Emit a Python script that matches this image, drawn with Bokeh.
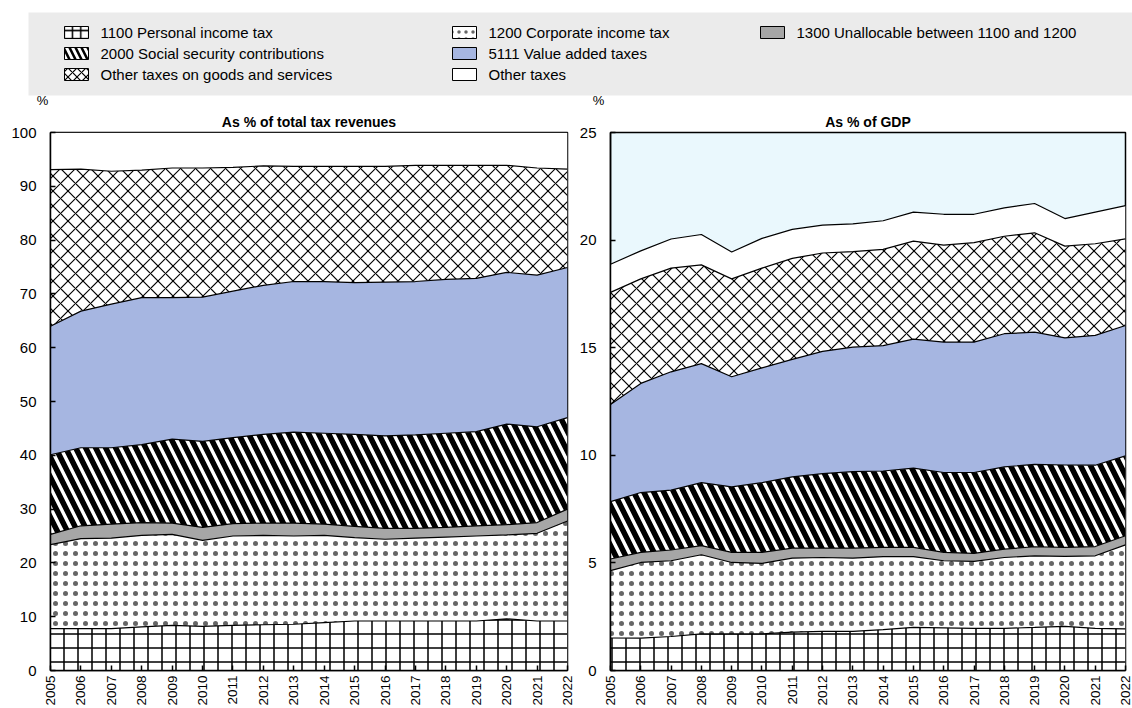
import numpy as np
from bokeh.plotting import figure
from bokeh.layouts import column, row
from bokeh.models import Range1d, FixedTicker, BoxAnnotation
from bokeh.core.properties import value
from bokeh.embed import file_html
from bokeh.resources import INLINE

FONT = "Liberation Sans"

years = list(range(2005, 2023))

series_names = [
    "1100 Personal income tax",
    "1200 Corporate income tax",
    "1300 Unallocable between 1100 and 1200",
    "2000 Social security contributions",
    "5111 Value added taxes",
    "Other taxes on goods and services",
    "Other taxes",
]

# As % of total tax revenues
share_pit = [7.8, 7.8, 7.8, 8.1, 8.4, 8.2, 8.4, 8.5, 8.6, 8.9, 9.2, 9.2, 9.2, 9.2, 9.2, 9.6, 9.2, 9.2]
share_cit = [15.6, 16.7, 16.8, 17.0, 16.9, 16.0, 16.6, 16.6, 16.4, 16.2, 15.5, 15.2, 15.4, 15.6, 15.8, 15.6, 16.3, 18.6]
share_unalloc = [1.9, 2.4, 2.6, 2.4, 2.1, 2.4, 2.3, 2.3, 2.4, 2.1, 2.1, 2.0, 1.8, 1.8, 1.9, 1.9, 2.0, 2.2]
share_ssc = [14.8, 14.5, 14.2, 14.5, 15.6, 16.0, 16.0, 16.5, 16.9, 16.9, 17.1, 17.2, 17.4, 17.5, 17.5, 18.7, 17.8, 17.0]
share_vat = [23.9, 25.4, 26.7, 27.3, 26.3, 26.8, 27.2, 27.7, 28.0, 28.2, 28.2, 28.6, 28.5, 28.6, 28.5, 28.2, 28.2, 27.9]
share_ogs = [29.1, 26.4, 24.7, 23.7, 24.1, 24.0, 23.0, 22.2, 21.4, 21.4, 21.6, 21.5, 21.6, 21.2, 21.0, 19.9, 19.9, 18.3]
share_other = [6.9, 6.8, 7.2, 7.0, 6.6, 6.6, 6.5, 6.2, 6.3, 6.3, 6.3, 6.3, 6.1, 6.1, 6.1, 6.1, 6.6, 6.8]

# As % of GDP
gdp_pit = [1.51, 1.50, 1.58, 1.70, 1.70, 1.70, 1.78, 1.82, 1.82, 1.90, 2.00, 1.98, 1.96, 1.96, 2.00, 2.05, 1.96, 1.93]
gdp_cit = [3.13, 3.52, 3.52, 3.68, 3.32, 3.28, 3.44, 3.43, 3.40, 3.39, 3.29, 3.12, 3.11, 3.29, 3.33, 3.25, 3.37, 3.91]
gdp_unalloc = [0.54, 0.47, 0.50, 0.42, 0.47, 0.51, 0.47, 0.44, 0.47, 0.43, 0.43, 0.39, 0.37, 0.39, 0.42, 0.42, 0.43, 0.42]
gdp_ssc = [2.67, 2.78, 2.78, 2.93, 3.04, 3.24, 3.31, 3.46, 3.55, 3.55, 3.68, 3.71, 3.76, 3.82, 3.83, 3.83, 3.78, 3.71]
gdp_vat = [4.51, 5.07, 5.50, 5.53, 5.12, 5.33, 5.46, 5.68, 5.79, 5.83, 6.00, 6.06, 6.06, 6.19, 6.14, 5.91, 6.03, 6.06]
gdp_ogs = [5.21, 4.86, 4.82, 4.59, 4.55, 4.64, 4.69, 4.57, 4.43, 4.47, 4.55, 4.51, 4.62, 4.53, 4.62, 4.26, 4.26, 4.03]
gdp_other = [1.31, 1.30, 1.35, 1.41, 1.25, 1.38, 1.35, 1.30, 1.29, 1.33, 1.35, 1.43, 1.32, 1.32, 1.36, 1.28, 1.47, 1.54]

share_ticks = [0, 10, 20, 30, 40, 50, 60, 70, 80, 90, 100]
gdp_ticks = [0, 5, 10, 15, 20, 25]

STYLES = [
    dict(fill_color="white", hatch_pattern="+", hatch_scale=14, hatch_weight=1.5, hatch_color="black"),
    dict(fill_color="white", hatch_pattern=".", hatch_scale=10, hatch_weight=1.0, hatch_color="black",
         hatch_alpha=0.6),
    dict(fill_color="#a6a6a6"),
    dict(fill_color="white", hatch_pattern="\\", hatch_scale=20, hatch_weight=5.5, hatch_color="black"),
    dict(fill_color="#a6b6e1"),
    dict(fill_color="white", hatch_pattern="x", hatch_scale=15, hatch_weight=1.2, hatch_color="black"),
    dict(fill_color="white"),
]

TOP_H = 108      # height of the legend strip
PANEL_H = 708 - TOP_H


def make_panel(title, layers, ymax, ticks, bg, border_left, frame_w, border_right):
    p = figure(width=border_left + frame_w + border_right, height=PANEL_H,
               x_range=Range1d(2005, 2022), y_range=Range1d(0, ymax),
               output_backend="svg", toolbar_location=None,
               min_border_left=border_left, min_border_right=border_right,
               min_border_top=23, min_border_bottom=38,
               background_fill_color=bg, border_fill_color="white")
    p.title.text = title
    p.title.align = "center"
    p.title.text_font = FONT
    p.title.text_font_size = "14px"
    p.title.text_font_style = "bold"
    p.title.text_color = "black"
    p.title.standoff = 6
    p.grid.visible = False
    p.outline_line_color = "black"
    p.outline_line_width = 1.5
    x = np.array(years, dtype=float)
    base = np.zeros(len(years))
    tops = []
    for vals, st in zip(layers, STYLES):
        top = base + np.array(vals)
        p.varea(x=x, y1=base, y2=top, **st)
        tops.append(top)
        base = top
    for top in tops:
        p.line(x, top, line_color="black", line_width=1.2)
    for ax in (p.xaxis[0], p.yaxis[0]):
        ax.axis_line_color = "black"
        ax.axis_line_width = 1.5
        ax.major_tick_in = 5
        ax.major_tick_out = 0
        ax.major_tick_line_color = "black"
        ax.major_tick_line_width = 1.5
        ax.minor_tick_line_color = None
        ax.major_label_text_font = FONT
        ax.major_label_text_color = "black"
    p.xaxis.ticker = FixedTicker(ticks=years)
    p.xaxis.major_label_orientation = np.pi / 2
    p.xaxis.major_label_text_font_size = "13.5px"
    p.xaxis.major_label_standoff = 5
    p.yaxis.ticker = FixedTicker(ticks=ticks)
    p.yaxis.major_label_text_font_size = "15px"
    p.yaxis.major_label_standoff = 14
    return p


left = make_panel("As % of total tax revenues",
                  [share_pit, share_cit, share_unalloc, share_ssc, share_vat, share_ogs, share_other],
                  100, share_ticks, "white", 50, 517, 9)
right = make_panel("As % of GDP",
                   [gdp_pit, gdp_cit, gdp_unalloc, gdp_ssc, gdp_vat, gdp_ogs, gdp_other],
                   25, gdp_ticks, "#eaf8fd", 29, 520, 7)

# legend strip (its coordinates are the strip's own pixels)
LW = 1132
leg = figure(width=LW, height=TOP_H, x_range=Range1d(0, LW), y_range=Range1d(TOP_H, 0),
             output_backend="svg", toolbar_location=None, min_border=0,
             outline_line_color=None)
leg.axis.visible = False
leg.grid.visible = False
leg.add_layout(BoxAnnotation(left=28, right=LW, top=12, bottom=95,
                             fill_color="#ebebeb", fill_alpha=1, line_color=None, level="underlay"))
col_x = [64, 452, 760]
row_y = [32, 53, 74]
order = [(0, 0, 0), (1, 1, 0), (2, 2, 0), (3, 0, 1), (4, 1, 1), (5, 0, 2), (6, 1, 2)]
for idx, c, r in order:
    st = dict(STYLES[idx])
    if "hatch_scale" in st:
        st["hatch_scale"] = max(7, st["hatch_scale"] * 0.6)
        st["hatch_weight"] = min(st["hatch_weight"], 2.5)
    leg.rect(x=[col_x[c] + 12], y=[row_y[r]], width=24, height=12, line_color="black", line_width=1, **st)
    leg.text(x=[col_x[c] + 36], y=[row_y[r]], text=[series_names[idx]], text_font=value(FONT),
             text_font_size="15px", text_baseline="middle", text_color="black")
# "%" unit markers above each value axis
leg.text(x=[42, 598], y=[100, 100], text=["%", "%"], text_font=value(FONT), text_font_size="13px",
         text_align="center", text_baseline="middle", text_color="black")

layout = column(leg, row(left, right))
open("out.html", "w").write(file_html(layout, INLINE))
